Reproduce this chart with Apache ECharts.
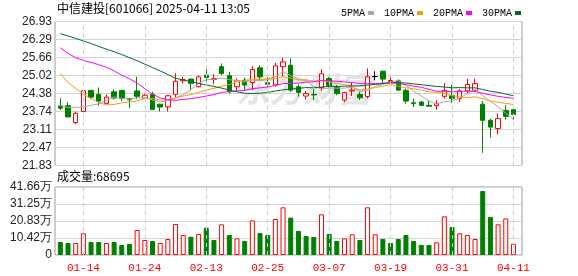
<!DOCTYPE html>
<html><head><meta charset="utf-8">
<script src="https://cdn.jsdelivr.net/npm/echarts@6/dist/echarts.min.js"></script>
<style>html,body{margin:0;padding:0;background:#fff}#c{width:578px;height:276px}</style>
</head><body><div id="c"></div>
<script>
const dates = ['01-09','01-10','01-13','01-14','01-15','01-16','01-17','01-20','01-21','01-22','01-23','01-24','01-27',
'02-05','02-06','02-07','02-10','02-11','02-12','02-13','02-14','02-17','02-18','02-19','02-20','02-21','02-24','02-25','02-26','02-27','02-28',
'03-03','03-04','03-05','03-06','03-07','03-10','03-11','03-12','03-13','03-14','03-17','03-18','03-19','03-20','03-21','03-24','03-25','03-26','03-27','03-28','03-31',
'04-01','04-02','04-03','04-07','04-08','04-09','04-10','04-11'];
const labelDates = ['01-14','01-24','02-13','02-25','03-07','03-19','03-31','04-11'];
const opens  = [23.94,23.95,23.35,23.74,24.49,24.35,24.03,24.44,24.49,24.19,24.47,24.21,24.35,24.00,23.91,24.35,24.83,24.89,24.62,25.03,24.88,25.33,25.01,24.62,24.85,24.77,25.29,24.76,24.68,25.33,25.38,24.62,24.29,24.35,24.59,24.91,24.59,24.15,24.47,24.35,24.27,24.98,25.17,24.80,24.83,24.49,24.05,24.08,23.96,23.95,24.28,24.31,24.20,24.47,24.49,24.00,23.43,23.14,23.78,23.81];
const closes = [23.86,23.55,23.68,24.48,24.25,24.11,24.25,24.22,24.20,24.16,24.28,24.32,23.81,23.90,24.30,24.81,24.87,24.74,24.97,24.95,24.91,25.09,24.44,24.83,24.68,25.23,24.97,24.71,25.36,25.50,24.50,24.42,24.38,24.33,25.08,24.66,24.38,24.41,24.50,24.23,24.97,24.98,24.89,24.84,24.50,24.11,24.03,23.96,23.93,24.02,24.49,24.20,24.47,24.70,24.73,23.43,23.19,23.49,23.57,23.64];
const lows   = [23.79,23.55,23.29,23.72,24.18,23.95,24.01,24.17,24.11,23.86,24.18,24.19,23.80,23.74,23.74,24.25,24.74,24.50,24.59,24.80,24.70,25.03,24.38,24.47,24.50,24.50,24.85,24.62,24.62,24.97,24.44,24.27,24.17,24.15,24.47,24.59,24.32,24.07,24.29,24.15,24.21,24.85,24.74,24.76,24.46,24.02,23.90,23.93,23.93,23.81,24.20,24.04,24.08,24.37,24.43,22.28,22.82,22.94,23.46,23.46];
const highs  = [24.21,24.07,23.74,24.50,24.50,24.59,24.35,24.53,24.51,24.23,24.97,24.37,24.44,24.02,24.32,25.10,24.97,24.91,25.01,25.27,25.06,25.44,25.15,24.91,24.94,25.35,25.38,24.97,25.47,25.65,25.62,24.70,24.47,24.53,25.24,24.97,24.68,24.44,24.76,24.44,25.27,25.17,25.18,25.00,24.88,24.55,24.20,24.11,24.14,24.14,24.75,24.69,24.55,24.90,24.90,24.11,23.49,23.67,23.96,23.84];
const volumes = [7.96,7.35,7.35,13.3,7.96,7.96,7.35,7.96,6.13,6.74,15.3,9.19,8.58,7.35,9.8,19.0,12.25,11.2,12.9,16.7,9.19,18.8,12.25,10.2,8.58,21.2,13.5,12.25,22.05,29.2,22.9,14.7,11.6,11.0,24.9,12.9,8.58,10.2,12.7,9.19,29.2,12.7,9.8,7.35,9.8,12.25,8.58,6.13,6.13,7.75,23.7,17.15,13.3,12.25,9.8,39.2,23.3,18.8,22.4,6.8695];
const ma5  = [23.95,23.89,23.89,23.90,23.96,24.01,24.15,24.26,24.21,24.19,24.22,24.24,24.15,24.09,24.12,24.23,24.34,24.52,24.74,24.87,24.89,24.93,24.87,24.84,24.79,24.85,24.83,24.88,24.99,25.15,25.01,24.90,24.83,24.63,24.54,24.57,24.57,24.57,24.61,24.44,24.50,24.62,24.71,24.78,24.84,24.66,24.47,24.29,24.11,24.01,24.09,24.12,24.22,24.38,24.52,24.31,24.10,23.91,23.68,23.46];
const ma10 = [25.09,24.77,24.56,24.36,24.20,24.06,23.98,23.99,24.05,24.08,24.12,24.20,24.21,24.15,24.16,24.23,24.29,24.34,24.42,24.50,24.56,24.64,24.70,24.79,24.83,24.87,24.88,24.88,24.92,24.97,24.93,24.86,24.86,24.81,24.85,24.79,24.73,24.70,24.62,24.49,24.54,24.59,24.64,24.69,24.64,24.58,24.55,24.50,24.44,24.42,24.38,24.30,24.26,24.24,24.26,24.20,24.11,24.07,24.03,23.99];
const ma20 = [26.00,25.80,25.65,25.55,25.48,25.40,25.31,25.18,25.03,24.90,24.75,24.55,24.36,24.22,24.16,24.14,24.17,24.20,24.24,24.29,24.34,24.42,24.45,24.47,24.49,24.55,24.58,24.61,24.67,24.73,24.74,24.75,24.78,24.80,24.84,24.83,24.81,24.79,24.77,24.73,24.73,24.73,24.75,24.75,24.74,24.69,24.64,24.60,24.53,24.46,24.46,24.44,24.45,24.47,24.45,24.39,24.33,24.28,24.24,24.21];
const ma30 = [26.50,26.42,26.33,26.24,26.15,26.05,25.95,25.86,25.76,25.65,25.54,25.42,25.30,25.18,25.05,24.92,24.86,24.80,24.74,24.68,24.63,24.57,24.50,24.44,24.39,24.38,24.39,24.42,24.47,24.51,24.54,24.56,24.59,24.58,24.61,24.63,24.63,24.64,24.65,24.65,24.68,24.70,24.73,24.76,24.77,24.75,24.72,24.69,24.66,24.63,24.61,24.58,24.59,24.58,24.58,24.52,24.46,24.42,24.36,24.30];
const priceTicks = ['21.83','22.47','23.11','23.74','24.38','25.02','25.66','26.29','26.93'];
const volTicks = ['0','10.42万','20.83万','31.25万','41.66万'];
const maNames = ['5PMA','10PMA','20PMA','30PMA'];
const headerText = '中信建投[601066] 2025-04-11 13:05';
const volLabel = '成交量:68695';

const RED = '#ff0000', GREEN = '#008000';
const maColors = ['#a8a8a8','#f2a10e','#ff00ff','#00692b'];
const LABEL_FONT = 'Liberation Sans';

const candleData = opens.map((o, i) => [o, closes[i], lows[i], highs[i]]);
const volData = volumes.map((v, i) => {
  const up = i === 0 ? closes[0] >= opens[0] : closes[i] >= closes[i - 1];
  return { value: v, itemStyle: up ? { color: '#fff', borderColor: RED, borderWidth: 1 } : { color: GREEN, borderColor: GREEN, borderWidth: 1 } };
});
const vLines = labelDates.map(d => ({ xAxis: d }));
const markLineStyle = { silent: true, symbol: ['none', 'none'], label: { show: false }, lineStyle: { color: '#cccccc', type: [4, 4], width: 1 }, data: vLines, animation: false };

const chart = echarts.init(document.getElementById('c'), null, { renderer: 'canvas' });
const mas = [ma5, ma10, ma20, ma30];
chart.setOption({
  animation: false,
  backgroundColor: '#fff',
  legend: {
    data: maNames.map(n => ({ name: n, icon: 'rect' })),
    left: 336, top: 3, itemWidth: 6, itemHeight: 4, itemGap: 10, align: 'right',
    textStyle: { fontFamily: 'Liberation Mono', fontSize: 10, color: '#000', padding: [0, -2, 0, 0] },
    selectedMode: false
  },
  graphic: [
    { type: 'text', left: 57, top: 2, z: 10, style: { text: headerText, font: '12px "Noto Sans CJK SC"', fill: '#000' } },
    { type: 'text', left: 57, top: 170, z: 10, style: { text: volLabel, font: '12px "Noto Sans CJK SC"', fill: '#000' } },
    { type: 'text', left: 236, top: 72, z: 1, style: { text: '东方财富', font: 'italic bold 34px "Noto Sans CJK SC"', fill: '#e4e4e4' } }
  ],
  grid: [
    { left: 55, top: 21.5, width: 467, height: 144, show: true, borderColor: '#999', borderWidth: 1 },
    { left: 56.5, top: 21.5, width: 460.8, height: 144 },
    { left: 55, top: 187, width: 467, height: 68, show: true, borderColor: '#999', borderWidth: 1 },
    { left: 56.5, top: 187, width: 460.8, height: 68 }
  ],
  xAxis: [
    { gridIndex: 0, type: 'value', show: false, min: 0, max: 1 },
    { gridIndex: 1, type: 'category', data: dates, boundaryGap: true, axisLine: { show: false }, axisTick: { show: false }, axisLabel: { show: false }, splitLine: { show: false } },
    { gridIndex: 2, type: 'value', show: false, min: 0, max: 1 },
    { gridIndex: 3, type: 'category', data: dates, boundaryGap: true, axisLine: { show: false }, axisTick: { show: false }, splitLine: { show: false },
      axisLabel: { interval: (i, v) => labelDates.includes(v), color: RED, fontFamily: 'Liberation Mono', fontSize: 11, margin: 8, hideOverlap: false } }
  ],
  yAxis: [
    { gridIndex: 0, type: 'category', data: priceTicks, boundaryGap: false, axisLine: { show: false }, axisTick: { show: false },
      axisLabel: { interval: 0, color: '#222', fontFamily: LABEL_FONT, fontSize: 12, margin: 3 },
      splitLine: { show: true, interval: 0, lineStyle: { color: '#d4d4d4', width: 1 } } },
    { gridIndex: 1, type: 'value', min: parseFloat(priceTicks[0]), max: parseFloat(priceTicks[priceTicks.length - 1]), show: false, splitLine: { show: false } },
    { gridIndex: 2, type: 'category', data: volTicks, boundaryGap: false, axisLine: { show: false }, axisTick: { show: false },
      axisLabel: { interval: 0, color: '#222', fontFamily: LABEL_FONT, fontSize: 12, margin: 3 },
      splitLine: { show: true, interval: 0, lineStyle: { color: '#d4d4d4', width: 1 } } },
    { gridIndex: 3, type: 'value', min: 0, max: parseFloat(volTicks[volTicks.length - 1]), show: false, splitLine: { show: false } }
  ],
  series: [
    { type: 'line', name: 'gridlines-price', xAxisIndex: 1, yAxisIndex: 1, data: [], z: 1, markLine: markLineStyle },
    { type: 'line', name: 'gridlines-vol', xAxisIndex: 3, yAxisIndex: 3, data: [], z: 1, markLine: markLineStyle },
    { type: 'candlestick', name: 'K', xAxisIndex: 1, yAxisIndex: 1, data: candleData, barWidth: 5, z: 3,
      itemStyle: { color: '#fff', color0: GREEN, borderColor: RED, borderColor0: GREEN, borderColorDoji: '#000', borderWidth: 1 } },
    ...maNames.map((n, k) => ({ type: 'line', name: n, xAxisIndex: 1, yAxisIndex: 1, data: mas[k], symbol: 'none', smooth: false, z: 4,
      lineStyle: { color: maColors[k], width: 1 }, itemStyle: { color: maColors[k] } })),
    { type: 'bar', name: 'VOL', xAxisIndex: 3, yAxisIndex: 3, data: volData, barWidth: 5, z: 3 }
  ]
});
</script></body></html>
